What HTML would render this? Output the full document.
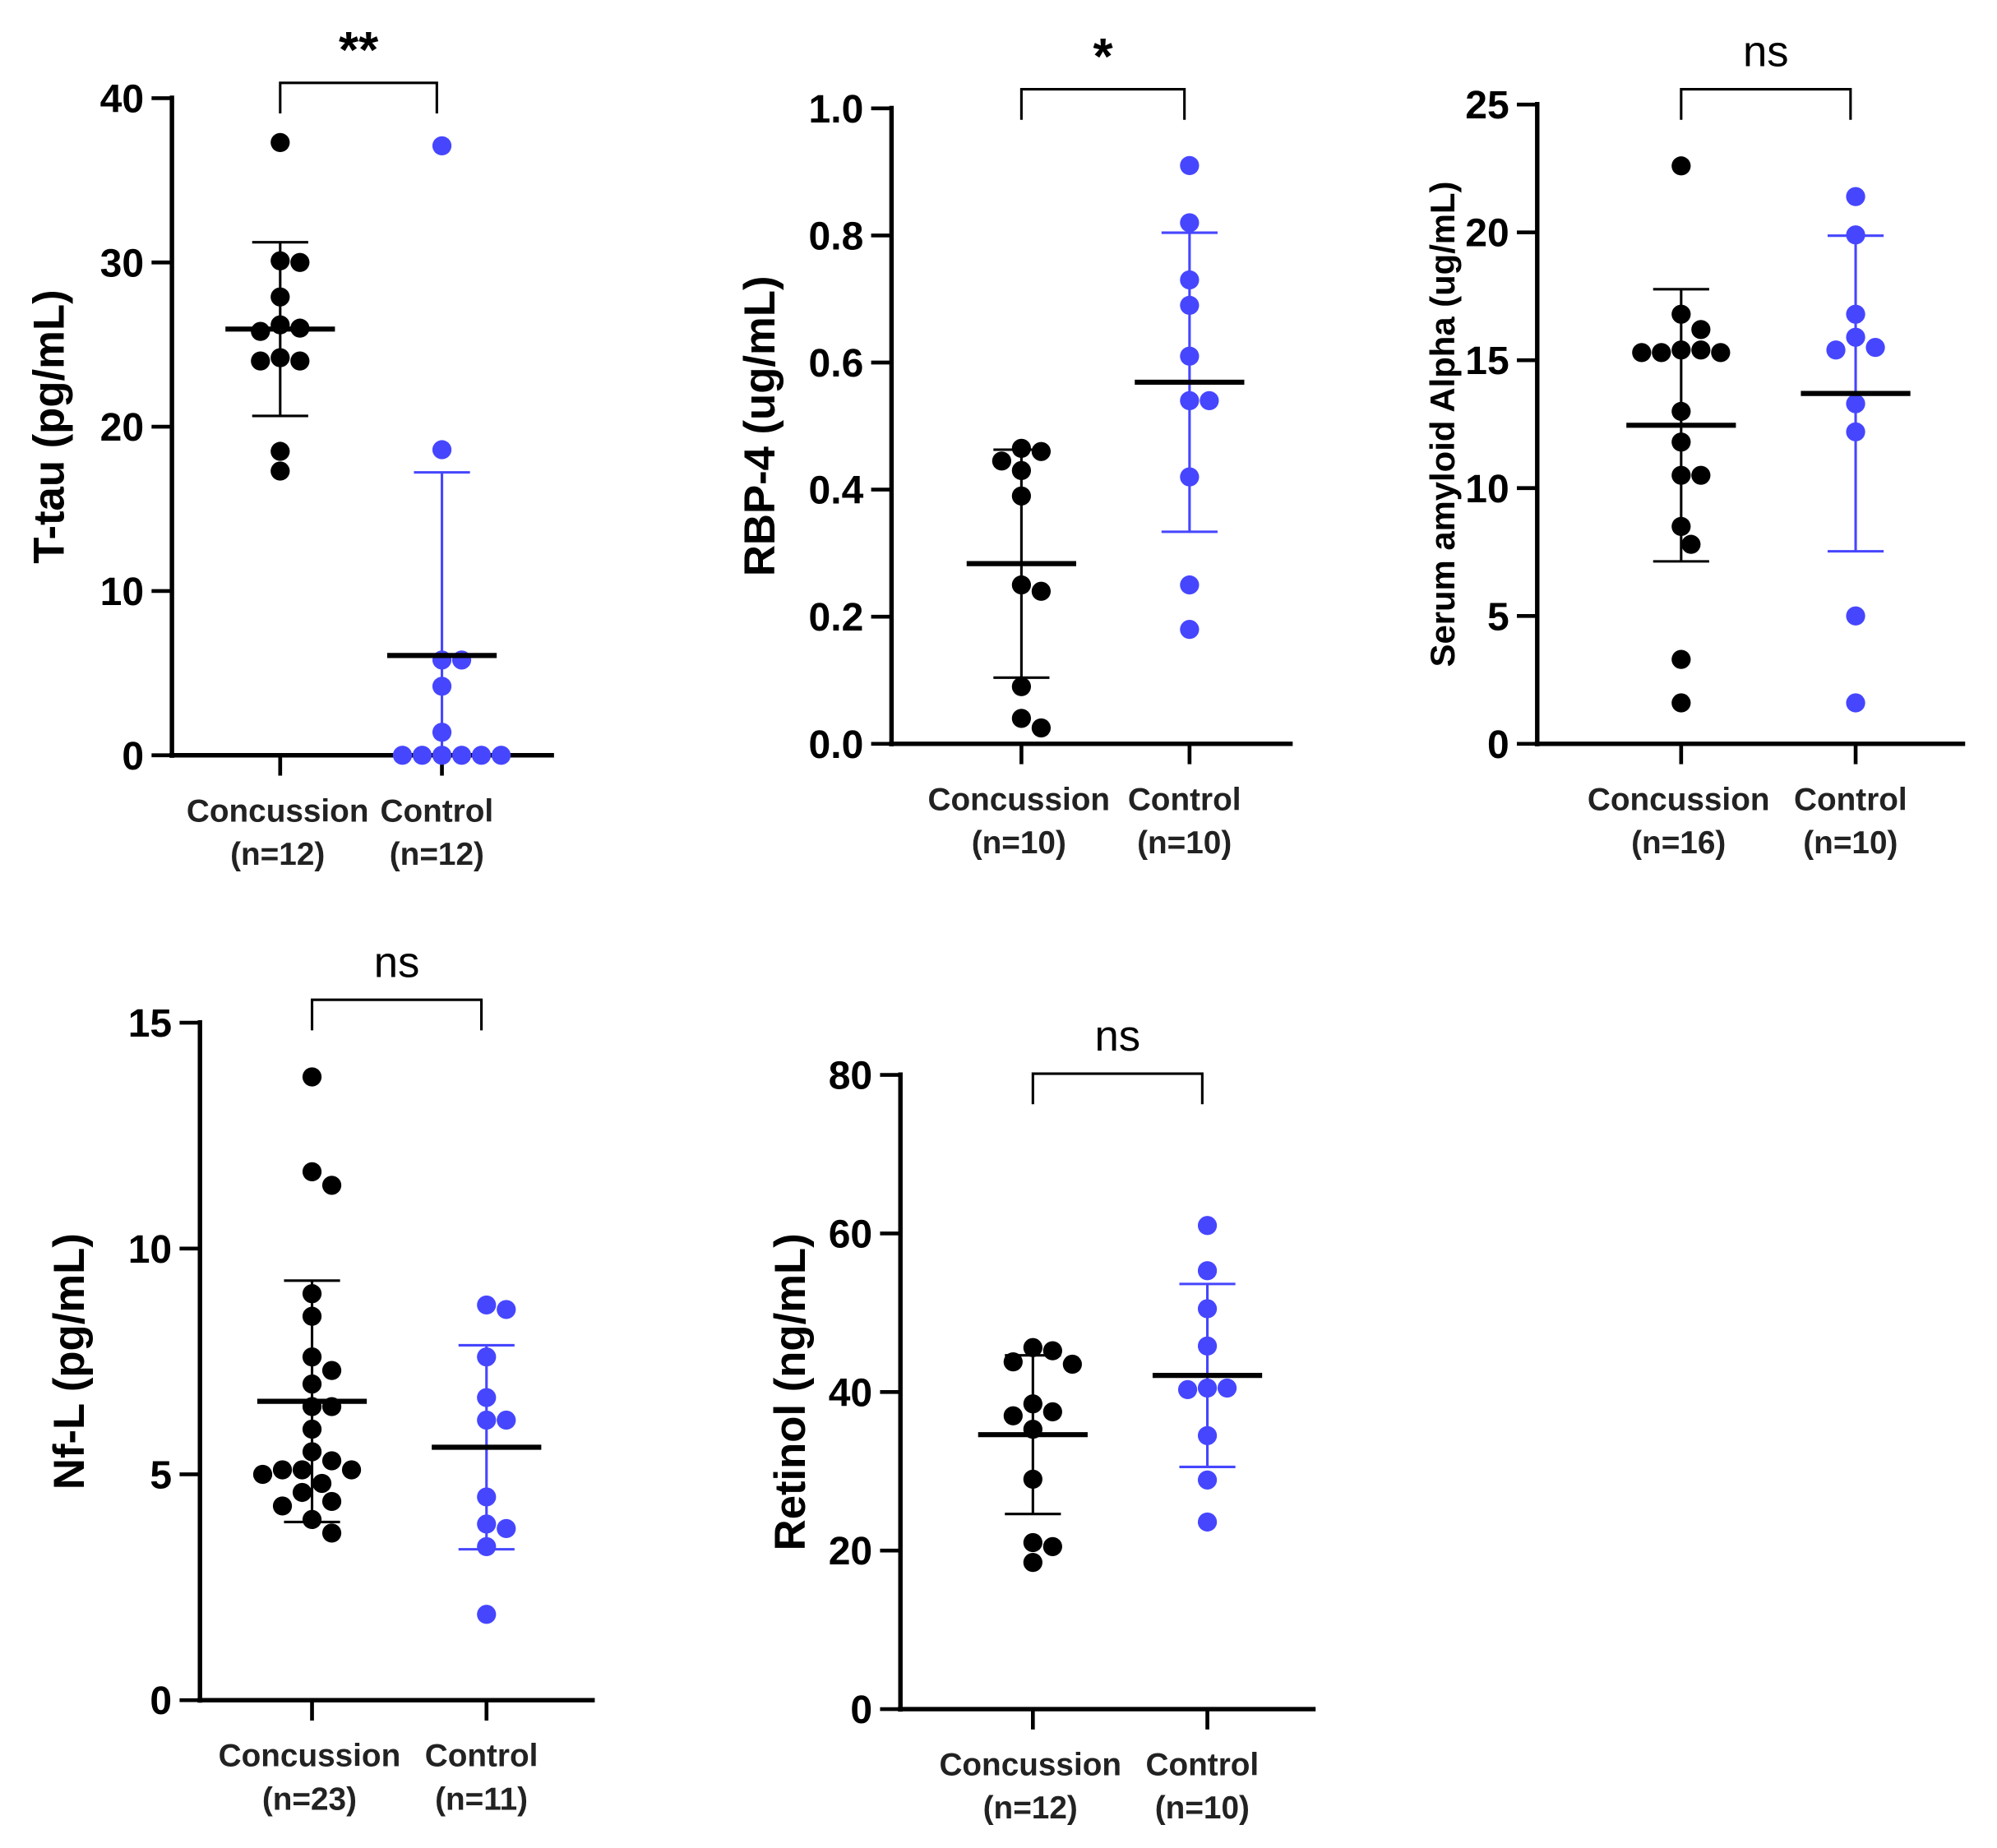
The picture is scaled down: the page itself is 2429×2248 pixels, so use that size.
<!DOCTYPE html>
<html><head><meta charset="utf-8">
<style>
html,body{margin:0;padding:0;background:#fff;}
svg{display:block;}
text{font-family:"Liberation Sans",sans-serif;}
</style></head>
<body>
<svg id="chart" width="2429" height="2248" viewBox="0 0 1568 1451" xmlns="http://www.w3.org/2000/svg"></svg>
<script>
// ---- data ----
const categories = ["Concussion", "Control"];
const ttauConcussion = [37.3, 30.1, 30.0, 27.9, 26.2, 26.0, 25.8, 24.0, 24.0, 24.2, 18.5, 17.3];
const ttauControl = [37.1, 18.6, 5.8, 5.8, 4.2, 1.4, 0, 0, 0, 0, 0, 0];
const ttauTicks = [0, 10, 20, 30, 40];
const rbpConcussion = [0.465, 0.46, 0.445, 0.43, 0.39, 0.25, 0.24, 0.09, 0.04, 0.025];
const rbpControl = [0.91, 0.82, 0.73, 0.69, 0.61, 0.54, 0.54, 0.42, 0.25, 0.18];
const rbpTicks = [0.0, 0.2, 0.4, 0.6, 0.8, 1.0];
const saaConcussion = [22.6, 16.8, 16.2, 15.4, 15.4, 15.3, 15.3, 15.3, 13.0, 11.8, 10.5, 10.5, 8.5, 7.8, 3.3, 1.6];
const saaControl = [21.4, 19.9, 16.8, 15.9, 15.5, 15.4, 13.3, 12.2, 5.0, 1.6];
const saaTicks = [0, 5, 10, 15, 20, 25];
const nflConcussion = [13.8, 11.7, 11.4, 9.0, 8.5, 7.6, 7.3, 7.0, 6.5, 6.5, 6.0, 5.5, 5.3, 5.1, 5.1, 5.1, 5.0, 4.8, 4.6, 4.4, 4.3, 4.0, 3.7];
const nflControl = [8.75, 8.65, 7.6, 6.7, 6.2, 6.2, 4.5, 3.9, 3.8, 3.4, 1.9];
const nflTicks = [0, 5, 10, 15];
const retConcussion = [45.2, 45.6, 43.8, 43.5, 38.5, 37.5, 37.0, 35.3, 29.0, 21.0, 20.5, 18.5];
const retControl = [61.0, 55.3, 50.5, 45.8, 40.5, 40.5, 40.3, 34.5, 28.9, 23.6];
const retTicks = [0, 20, 40, 60, 80];

const BLUE = "#4646ff";
const svg = document.getElementById("chart");
const NS = "http://www.w3.org/2000/svg";
function el(tag, attrs, parent) {
  const e = document.createElementNS(NS, tag);
  for (const k in attrs) e.setAttribute(k, attrs[k]);
  (parent || svg).appendChild(e);
  return e;
}
function stats(a) {
  const m = a.reduce((s, v) => s + v, 0) / a.length;
  const sd = Math.sqrt(a.reduce((s, v) => s + (v - m) * (v - m), 0) / (a.length - 1));
  return [m, sd];
}
function panel(cfg) {
  const g = el("g", {});
  
  
  const y = v => cfg.y0 - (v - cfg.ticks[0]) / (cfg.ticks[cfg.ticks.length - 1] - cfg.ticks[0]) * (cfg.y0 - cfg.yTop);
  const xs = [cfg.cx1, cfg.cx2];
  const ya = el("line", {x1: cfg.ax, y1: cfg.yTop - 2, x2: cfg.ax, y2: cfg.y0 + 2, stroke: "#000", "stroke-width": 3.5}, g);
  
  
  const xa = el("line", {x1: cfg.ax - 2, y1: cfg.y0, x2: cfg.axEnd, y2: cfg.y0, stroke: "#000", "stroke-width": 3.5}, g);
  
  
  cfg.ticks.forEach(t => {
    el("line", {x1: cfg.ax - 16, y1: y(t), x2: cfg.ax, y2: y(t), stroke: "#000", "stroke-width": 3}, g);
    const tl = el("text", {x: cfg.ax - 22, y: y(t) + 11, "text-anchor": "end", "font-size": 31, "font-weight": "bold"}, g);
    tl.textContent = cfg.fmt ? cfg.fmt(t) : t;
    
    
  });
  xs.forEach((x, i) => {
    el("line", {x1: x, y1: cfg.y0, x2: x, y2: cfg.y0 + 16, stroke: "#000", "stroke-width": 3}, g);
    const lx = x + (i === 0 ? -2 : -4);
    const t1 = el("text", {x: lx, y: cfg.y0 + 52, "text-anchor": "middle", "font-size": 25, "font-weight": "bold", fill: "#222"}, g);
    t1.textContent = categories[i];
    
    
    const t2 = el("text", {x: lx, y: cfg.y0 + 86, "text-anchor": "middle", "font-size": 25, "font-weight": "bold", fill: "#222"}, g);
    t2.textContent = "(n=" + cfg.data[i].length + ")";
    
    
  });
  const yt = el("text", {x: 0, y: 0, "text-anchor": "middle", "font-size": cfg.titleSize || 34, "font-weight": "bold",
    transform: "translate(" + cfg.titleX + "," + ((cfg.yTop + cfg.y0) / 2) + ") rotate(-90)"}, g);
  yt.textContent = cfg.title;
  
  
  const bx1 = xs[0], bx2 = xs[1] - 4;
  const br = el("path", {d: `M${bx1},${cfg.bY + 24} V${cfg.bY} H${bx2} V${cfg.bY + 24}`, fill: "none", stroke: "#000", "stroke-width": 2}, g);
  
  
  const sg = el("text", {x: (bx1 + bx2) / 2, y: cfg.bY - (cfg.sig === "ns" ? 18 : 12), "text-anchor": "middle", "font-size": cfg.sig === "ns" ? 34 : 40, "font-weight": cfg.sig === "ns" ? "normal" : "bold"}, g);
  sg.textContent = cfg.sig;
  
  
  cfg.data.forEach((arr, i) => {
    const col = i === 0 ? "#000" : BLUE;
    const cx = xs[i];
    const [m, sd] = stats(arr);
    const lo = Math.max(m - sd, cfg.ticks[0]), hi = m + sd;
    const r = 7.5, d = 15.5;
    const placed = [];
    arr.slice().sort((a, b) => b - a).forEach(v => {
      const py = y(v);
      let px = cx;
      for (let k = 0; k < 40; k++) {
        const off = (k % 2 ? 1 : -1) * Math.ceil(k / 2) * d / 2 * (k === 0 ? 0 : 1);
        const tx = cx + off;
        if (placed.every(p => Math.hypot(p[0] - tx, p[1] - py) >= 2 * r)) { px = tx; break; }
      }
      placed.push([px, py]);
      const c = el("circle", {cx: px, cy: py, r: r, fill: col}, g);
      
      
    });
    const eb = el("path", {d: `M${cx},${y(hi)} V${y(lo)} M${cx - 22},${y(hi)} H${cx + 22} ${cfg.ticks[0] < m - sd ? `M${cx - 22},${y(lo)} H${cx + 22}` : ''}`, stroke: col, "stroke-width": 2, fill: "none"}, g);
    
    
    const ml = el("line", {x1: cx - 43, y1: y(m), x2: cx + 43, y2: y(m), stroke: "#000", "stroke-width": 4}, g);
    
    
  });
}
panel({name: "t-tau", data: [ttauConcussion, ttauControl], ticks: ttauTicks, ax: 135, axEnd: 435, y0: 593, yTop: 77, cx1: 220, cx2: 347, bY: 65, sig: "**", title: "T-tau (pg/mL)", titleX: 50});
panel({name: "rbp-4", data: [rbpConcussion, rbpControl], ticks: rbpTicks, ax: 700, axEnd: 1015, y0: 584, yTop: 85, cx1: 802, cx2: 934, bY: 70, sig: "*", title: "RBP-4 (ug/mL)", titleX: 608, fmt: t => t.toFixed(1)});
panel({name: "serum-amyloid-alpha", data: [saaConcussion, saaControl], ticks: saaTicks, ax: 1207, axEnd: 1543, y0: 584, yTop: 82, cx1: 1320, cx2: 1457, bY: 70, sig: "ns", title: "Serum amyloid Alpha (ug/mL)", titleX: 1142, titleSize: 27});
panel({name: "nf-l", data: [nflConcussion, nflControl], ticks: nflTicks, ax: 157, axEnd: 467, y0: 1335, yTop: 803, cx1: 245, cx2: 382, bY: 785, sig: "ns", title: "Nf-L (pg/mL)", titleX: 66});
panel({name: "retinol", data: [retConcussion, retControl], ticks: retTicks, ax: 707, axEnd: 1033, y0: 1342, yTop: 844, cx1: 811, cx2: 948, bY: 843, sig: "ns", title: "Retinol (ng/mL)", titleX: 632});
</script>
</body></html>
